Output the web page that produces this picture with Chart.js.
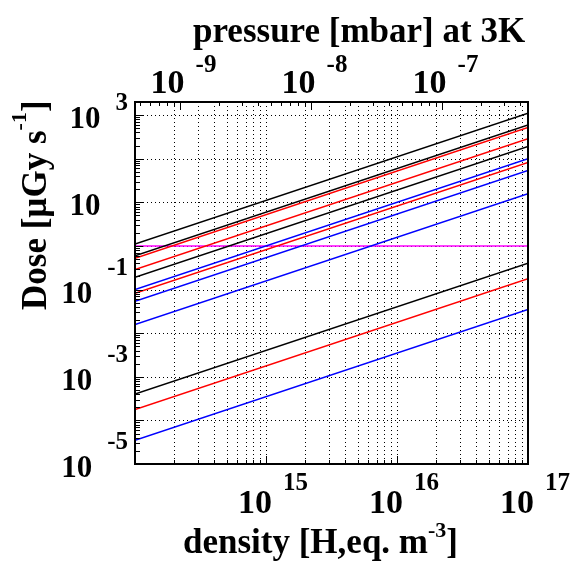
<!DOCTYPE html>
<html>
<head>
<meta charset="utf-8">
<script src="https://cdn.jsdelivr.net/npm/chart.js@4/dist/chart.umd.min.js"></script>
<style>
  html, body { margin: 0; padding: 0; background: #fff; }
  canvas { display: block; }
</style>
</head>
<body>
<canvas id="c" width="575" height="563"></canvas>
<script>
// ---- data ----
const densityRange = [1e14, 1e17];              // x extent of every line [H,eq. m^-3]
const seriesColors = ['#000000','#000000','#ff0000','#ff0000','#000000','#0000ff','#ff0000','#0000ff','#0000ff','#000000','#ff0000','#0000ff','#ff00ff'];
const doseAtMinDensity = [1.11, 0.594, 0.524, 0.288, 0.19, 0.1, 0.0824, 0.0537, 0.0158, 4.03e-4, 1.78e-4, 3.51e-5, 1];
const doseAtMaxDensity = [1110, 594, 524, 288, 190, 100, 82.4, 53.7, 15.8, 0.403, 0.178, 0.0351, 1];
const densityTickExps = [15, 16, 17];
const doseTickExps = ['3', '', '-1', '-3', '-5'];
const doseTickValues = [1e3, 1e1, 1e-1, 1e-3, 1e-5];
const pressureTickExps = [-9, -8, -7];
const pressureRange = [4.57e-10, 4.57e-7];      // top axis extent [mbar]
const doseRange = [1e-5, 2e3];

const SERIF = '"Liberation Serif", "Times New Roman", serif';

const datasets = seriesColors.map((c, i) => ({
  data: [{x: densityRange[0], y: doseAtMinDensity[i]}, {x: densityRange[1], y: doseAtMaxDensity[i]}],
  showLine: true, borderColor: c, borderWidth: 1.5, pointRadius: 0, fill: false, tension: 0
}));

function minorValues(lo, hi) {
  const out = [];
  const e0 = Math.floor(Math.log10(lo)) - 1, e1 = Math.ceil(Math.log10(hi)) + 1;
  for (let e = e0; e <= e1; e++) {
    for (let m = 1; m <= 9; m++) {
      const v = m * Math.pow(10, e);
      if (v >= lo * 0.9999 && v <= hi * 1.0001) out.push({v, major: m === 1});
    }
  }
  return out;
}

const decor = {
  id: 'decor',
  beforeDatasetsDraw(chart) {
    const {ctx, chartArea: a, scales} = chart;
    ctx.save();
    ctx.beginPath();
    ctx.rect(a.left, a.top, a.right - a.left, a.bottom - a.top);
    ctx.clip();
    ctx.strokeStyle = '#000';
    ctx.lineWidth = 1;
    ctx.setLineDash([1, 3]);
    // vertical grid at all density ticks
    minorValues(densityRange[0], densityRange[1]).forEach(t => {
      const x = Math.round(scales.x.getPixelForValue(t.v)) + 0.5;
      ctx.beginPath(); ctx.moveTo(x, a.top); ctx.lineTo(x, a.bottom); ctx.stroke();
    });
    // horizontal grid at decades
    minorValues(doseRange[0], doseRange[1]).filter(t => t.major).forEach(t => {
      const y = Math.round(scales.y.getPixelForValue(t.v)) + 0.5;
      ctx.beginPath(); ctx.moveTo(a.left, y); ctx.lineTo(a.right, y); ctx.stroke();
    });
    ctx.restore();
  },
  afterDraw(chart) {
    const {ctx, chartArea: a, scales} = chart;
    ctx.save();
    ctx.strokeStyle = '#000';
    ctx.lineWidth = 1;
    // bottom ticks
    minorValues(densityRange[0], densityRange[1]).forEach(t => {
      const x = Math.round(scales.x.getPixelForValue(t.v)) + 0.5;
      const L = t.major ? 8 : 4;
      ctx.beginPath(); ctx.moveTo(x, a.bottom); ctx.lineTo(x, a.bottom - L); ctx.stroke();
    });
    // top ticks (pressure)
    minorValues(pressureRange[0], pressureRange[1]).forEach(t => {
      const x = Math.round(scales.x2.getPixelForValue(t.v)) + 0.5;
      const L = t.major ? 8 : 4;
      ctx.beginPath(); ctx.moveTo(x, a.top); ctx.lineTo(x, a.top + L); ctx.stroke();
    });
    // left ticks
    minorValues(doseRange[0], doseRange[1]).forEach(t => {
      const y = Math.round(scales.y.getPixelForValue(t.v)) + 0.5;
      const L = t.major ? 8 : 5;
      ctx.beginPath(); ctx.moveTo(a.left, y); ctx.lineTo(a.left + L, y); ctx.stroke();
    });
    // frame
    ctx.lineWidth = 2;
    ctx.strokeRect(a.left, a.top, a.right - a.left, a.bottom - a.top);

    ctx.fillStyle = '#000';
    ctx.textBaseline = 'alphabetic';
    // bottom tick labels
    densityTickExps.forEach(e => {
      const x = scales.x.getPixelForValue(Math.pow(10, e));
      ctx.font = 'bold 34px ' + SERIF; ctx.textAlign = 'right';
      ctx.fillText('10', x + 6, 513);
      ctx.font = 'bold 25px ' + SERIF; ctx.textAlign = 'left';
      ctx.fillText(String(e), x + 17, 490);
    });
    // top tick labels
    pressureTickExps.forEach(e => {
      const x = scales.x2.getPixelForValue(Math.pow(10, e));
      ctx.font = 'bold 34px ' + SERIF; ctx.textAlign = 'right';
      ctx.fillText('10', x + 5, 93);
      ctx.font = 'bold 25px ' + SERIF; ctx.textAlign = 'left';
      ctx.fillText(String(e), x + 16, 72);
    });
    // left tick labels
    doseTickValues.forEach((v, i) => {
      const y = scales.y.getPixelForValue(v);
      const ex = doseTickExps[i];
      ctx.font = 'bold 25px ' + SERIF; ctx.textAlign = 'right';
      const neg = ex.startsWith('-');
      if (ex) ctx.fillText(ex, 128, y + 13 - (neg ? 28 : 18));
      const w = ctx.measureText(ex || '1').width;
      ctx.font = 'bold 31px ' + SERIF;
      ctx.fillText('10', 128 - w - 15, y + 13);
    });

    // top title
    ctx.font = 'bold 35px ' + SERIF; ctx.textAlign = 'left';
    ctx.fillText('pressure [mbar] at 3K', 193, 42);

    // bottom title with superscript
    let x = 183;
    ctx.font = 'bold 35px ' + SERIF;
    const t1 = 'density [H,eq. m';
    ctx.fillText(t1, x, 553); x += ctx.measureText(t1).width;
    ctx.font = 'bold 22px ' + SERIF;
    ctx.fillText('-3', x, 537); x += ctx.measureText('-3').width;
    ctx.font = 'bold 35px ' + SERIF;
    ctx.fillText(']', x, 553);

    // y title rotated
    ctx.translate(46, 310);
    ctx.rotate(-Math.PI / 2);
    let u = 0;
    const s1 = 'Dose [\u00b5Gy s';
    ctx.font = 'bold 35px ' + SERIF;
    ctx.fillText(s1, u, 0); u += ctx.measureText(s1).width;
    ctx.font = 'bold 22px ' + SERIF;
    ctx.fillText('-1', u, -20); u += ctx.measureText('-1').width;
    ctx.font = 'bold 35px ' + SERIF;
    ctx.fillText(']', u, 0);
    ctx.restore();
  }
};

new Chart(document.getElementById('c'), {
  type: 'scatter',
  data: { datasets },
  options: {
    responsive: false, animation: false, devicePixelRatio: 1,
    layout: { padding: { left: 135, right: 47, top: 102, bottom: 99 } },
    plugins: { legend: { display: false }, tooltip: { enabled: false } },
    scales: {
      x: { type: 'logarithmic', position: 'bottom', min: densityRange[0], max: densityRange[1],
           grid: { display: false }, border: { display: false }, ticks: { display: false },
           afterFit(s) { s.height = 0; } },
      x2: { type: 'logarithmic', position: 'top', min: pressureRange[0], max: pressureRange[1],
           grid: { display: false }, border: { display: false }, ticks: { display: false },
           afterFit(s) { s.height = 0; } },
      y: { type: 'logarithmic', position: 'left', min: doseRange[0], max: doseRange[1],
           grid: { display: false }, border: { display: false }, ticks: { display: false },
           afterFit(s) { s.width = 0; } }
    }
  },
  plugins: [decor]
});
</script>
</body>
</html>
